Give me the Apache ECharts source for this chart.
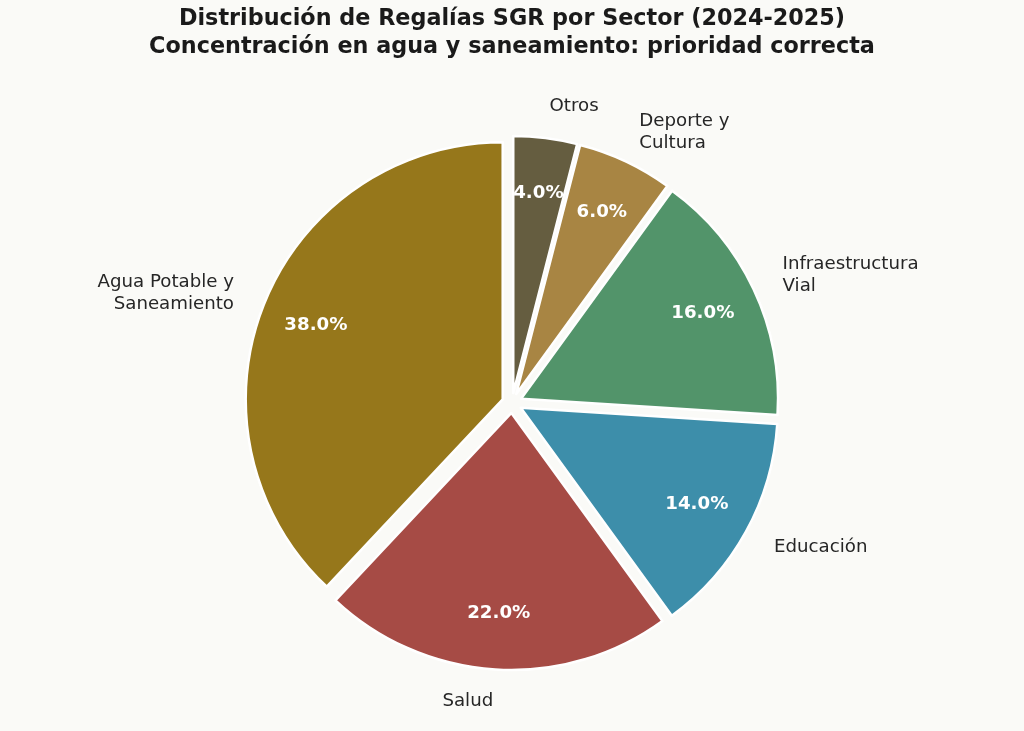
<!DOCTYPE html>
<html>
<head>
<meta charset="utf-8">
<script src="https://cdn.jsdelivr.net/npm/echarts@6/dist/echarts.min.js"></script>
<style>
  html, body { margin: 0; padding: 0; background: #fafaf7; }
  #chart { width: 1024px; height: 731px; }
</style>
</head>
<body>
<div id="chart"></div>
<script>
// datos del gráfico
const sectores = ['Agua Potable y\nSaneamiento', 'Salud', 'Educación', 'Infraestructura\nVial', 'Deporte y\nCultura', 'Otros'];
const porcentajes = [38, 22, 14, 16, 6, 4];
const colores = ['#96771b', '#a64b45', '#3d8eaa', '#52946a', '#a88543', '#655d40'];

const chart = echarts.init(document.getElementById('chart'));

const R = 257;
const centro = [512, 403];
const desplazamiento = 10;

const datos = sectores.map(function (nombre, i) {
    return {
        name: nombre,
        value: porcentajes[i],
        selected: true,
        itemStyle: { color: colores[i] }
    };
});

const option = {
    backgroundColor: '#fafaf7',
    animation: false,
    title: {
        text: 'Distribución de Regalías SGR por Sector (2024-2025)\nConcentración en agua y saneamiento: prioridad correcta',
        left: 'center',
        top: 5,
        padding: 0,
        textStyle: {
            fontFamily: 'DejaVu Sans',
            fontSize: 22.3,
            fontWeight: 'bold',
            color: '#1a1a1a',
            lineHeight: 28
        }
    },
    series: [
        {
            // etiquetas exteriores
            name: 'sectores',
            type: 'pie',
            center: centro,
            radius: [0, R],
            startAngle: 90,
            clockwise: false,
            selectedMode: 'multiple',
            selectedOffset: desplazamiento,
            avoidLabelOverlap: false,
            emphasis: { disabled: true },
            itemStyle: { borderColor: '#ffffff', borderWidth: 2.5 },
            label: {
                show: true,
                position: 'outside',
                fontFamily: 'DejaVu Sans',
                fontSize: 18.2,
                color: '#262626',
                lineHeight: 22,
                distanceToLabelLine: 0
            },
            labelLine: { show: false, length: 32, length2: 0 },
            data: datos
        },
        {
            // porcentajes interiores
            name: 'porcentajes',
            type: 'pie',
            center: centro,
            radius: [R * 0.54, R],
            startAngle: 90,
            clockwise: false,
            selectedMode: 'multiple',
            selectedOffset: desplazamiento,
            silent: true,
            avoidLabelOverlap: false,
            emphasis: { disabled: true },
            itemStyle: { color: 'rgba(0,0,0,0)' },
            label: {
                show: true,
                position: 'inside',
                formatter: function (p) { return p.value.toFixed(1) + '%'; },
                fontFamily: 'DejaVu Sans',
                fontSize: 18.2,
                fontWeight: 'bold',
                color: '#ffffff'
            },
            labelLine: { show: false },
            data: sectores.map(function (nombre, i) {
                return { name: nombre, value: porcentajes[i], selected: true };
            })
        }
    ]
};

chart.setOption(option);
</script>
</body>
</html>
